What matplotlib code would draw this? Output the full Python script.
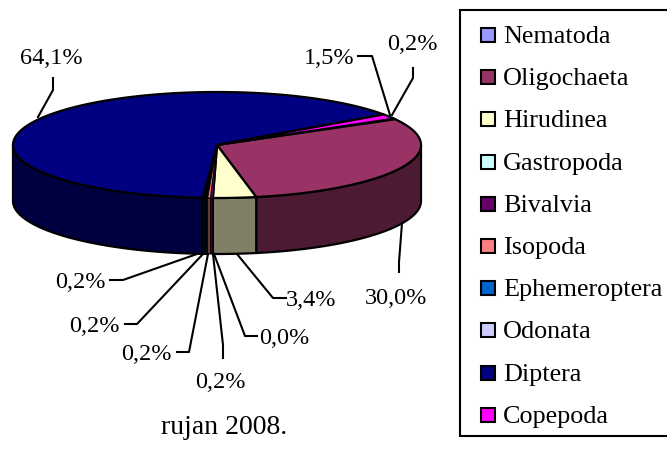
import numpy as np
import matplotlib
matplotlib.use("Agg")
import matplotlib.pyplot as plt
from matplotlib.patches import Rectangle

plt.rcParams['font.family'] = ['Liberation Serif', 'DejaVu Serif']

categories = ["Nematoda", "Oligochaeta", "Hirudinea", "Gastropoda", "Bivalvia",
              "Isopoda", "Ephemeroptera", "Odonata", "Diptera", "Copepoda"]
values = [0.2, 30.0, 3.4, 0.0, 0.2, 0.2, 0.2, 0.2, 64.1, 1.5]
colors = ["#9999FF", "#993366", "#FFFFCC", "#CCFFFF", "#660066",
          "#FF8080", "#0066CC", "#CCCCFF", "#000080", "#FF00FF"]
title = "rujan 2008."

# pie geometry, in pixels
cx, cy = 217, 145
rx, ry = 204, 53
depth = 56
start = 29.8

# these two stay visible between the black edges, so drawn last with a thin edge
thin = ["Bivalvia", "Isopoda"]

# label text, x, y, leader line
labels = [
    ("64,1%", 51, 58, [(38, 117), (53, 90), (53, 78)]),
    ("1,5%", 329, 58, [(358, 56), (372, 56), (390, 115)]),
    ("0,2%", 412, 45, [(413, 68), (413, 78), (392, 115)]),
    ("30,0%", 396, 298, [(402, 223), (399, 262), (399, 272)]),
    ("3,4%", 311, 300, [(237, 254), (273, 298), (286, 298)]),
    ("0,0%", 284, 338, [(214, 254), (245, 336), (257, 336)]),
    ("0,2%", 220, 382, [(213, 254), (223, 345), (223, 358)]),
    ("0,2%", 146, 354, [(208, 254), (189, 352), (177, 352)]),
    ("0,2%", 94, 326, [(203, 254), (137, 324), (125, 324)]),
    ("0,2%", 80, 282, [(197, 254), (123, 280), (110, 280)]),
]

fig = plt.figure(figsize=(6.67, 4.57), dpi=100)
ax = fig.add_axes([0, 0, 1, 1])
ax.set_xlim(0, 667)
ax.set_ylim(457, 0)
ax.axis("off")


def rim(a0, a1):
    t = np.radians(np.linspace(a0, a1, 200))
    return cx + rx * np.cos(t), cy - ry * np.sin(t)


def darker(c):
    return tuple(v * 0.5 for v in matplotlib.colors.to_rgb(c))


# slices run clockwise from the start angle
edges = start - np.cumsum([0] + values) * 3.6
order = sorted(range(len(values)), key=lambda k: categories[k] in thin)

# side walls, only the front half of the rim shows
for i in order:
    a0 = min(edges[i], 0)
    a1 = max(edges[i + 1], -180)
    if a0 <= a1:
        continue
    x, y = rim(a0, a1)
    lw = 0.6 if categories[i] in thin else 1.6
    ax.fill(np.r_[x, x[::-1]], np.r_[y, y[::-1] + depth],
            facecolor=darker(colors[i]), edgecolor="black", lw=lw)

# top faces
for i in order:
    x, y = rim(edges[i], edges[i + 1])
    lw = 0.6 if categories[i] in thin else 1.6
    ax.fill(np.r_[cx, x], np.r_[cy, y], facecolor=colors[i],
            edgecolor="black", lw=lw, joinstyle="round")

# leader lines and value labels
for text, tx, ty, line in labels:
    ax.plot([p[0] for p in line], [p[1] for p in line], color="black", lw=1.5)
    ax.text(tx, ty, text, fontsize=17.5, ha="center", va="center")

ax.text(224, 427, title, fontsize=20, ha="center", va="center")

# legend, the right edge of the box is cut off by the picture
ax.add_patch(Rectangle((460, 10), 230, 426, facecolor="white", edgecolor="black", lw=1.5))
for i, name in enumerate(categories):
    y = 35 + i * 42.2
    ax.add_patch(Rectangle((480.5, y - 7), 14, 14, facecolor=colors[i], edgecolor="black", lw=1.5))
    ax.text(503, y + 8, name, fontsize=18.8, ha="left", va="baseline")

plt.savefig("out.png", dpi=100)
